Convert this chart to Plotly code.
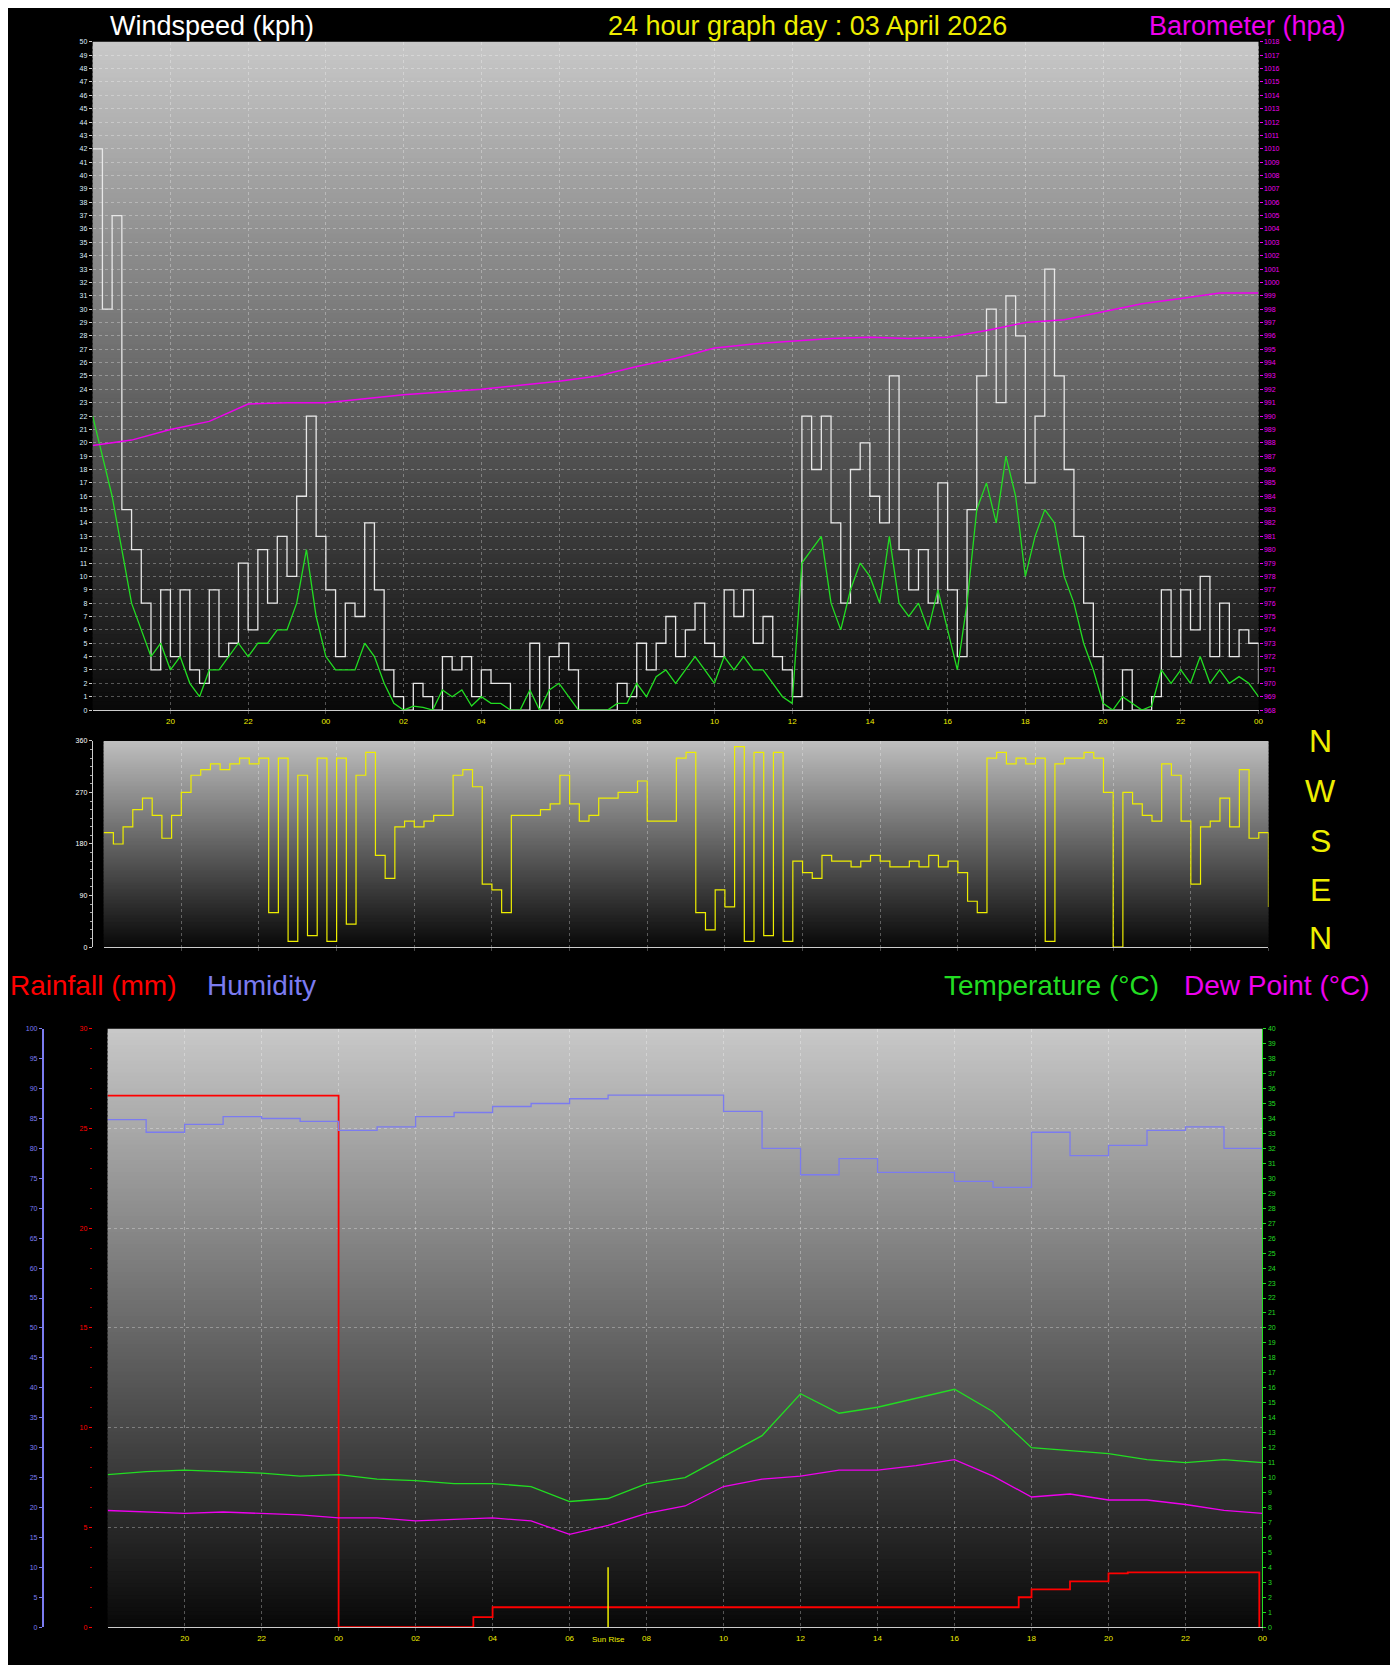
"""
24 hour weather graph: wind, direction, rain / humidity / temperature
"""
import pandas as pd
from plotly import graph_objects as go

START = "2026-04-02 18:00"

# wind gust (kph), every 15 minutes
wind_gust = [42, 30, 37, 15, 12, 8, 3, 9, 4, 9, 3, 2, 9, 4, 5, 11, 6, 12, 8, 13, 10, 16, 22, 13,
             9, 4, 8, 7, 14, 9, 3, 1, 0, 2, 1, 0, 4, 3, 4, 1, 3, 2, 2, 0, 0, 5, 0, 4,
             5, 3, 0, 0, 0, 0, 2, 1, 5, 3, 5, 7, 4, 6, 8, 5, 4, 9, 7, 9, 5, 7, 4, 3,
             1, 22, 18, 22, 14, 8, 18, 20, 16, 14, 25, 12, 9, 12, 8, 17, 9, 4, 15, 25,
             30, 23, 31, 28, 17, 22, 33, 25, 18, 13, 8, 4, 0, 0, 3, 0, 0, 1, 9, 4,
             9, 6, 10, 4, 8, 4, 6, 5, 2]
# average wind (kph), every 15 minutes
wind_avg = [22, 19, 16, 12, 8, 6, 4, 5, 3, 4, 2, 1, 3, 3, 4, 5, 4, 5, 5, 6, 6, 8, 12, 7,
            4, 3, 3, 3, 5, 4, 2, 0.5, 0, 0.3, 0.2, 0, 1.5, 1, 1.5, 0.3, 1, 0.5, 0.5, 0, 0, 1.5, 0, 1.5,
            2, 1, 0, 0, 0, 0, 0.5, 0.5, 2, 1, 2.5, 3, 2, 3, 4, 3, 2, 4, 3, 4, 3, 3, 2, 1,
            0.5, 11, 12, 13, 8, 6, 9, 11, 10, 8, 13, 8, 7, 8, 6, 9, 6, 3, 8, 15,
            17, 14, 19, 16, 10, 13, 15, 14, 10, 8, 5, 3, 0.5, 0, 1, 0.5, 0, 0.3, 3, 2,
            3, 2, 4, 2, 3, 2, 2.5, 2, 1]
# wind direction (degrees), every 15 minutes
wind_dir = [200, 180, 210, 240, 260, 230, 190, 230, 270, 300, 310, 320, 310, 320, 330, 320,
            330, 60, 330, 10, 300, 20, 330, 10, 330, 40, 300, 340, 160, 120, 210, 220,
            210, 220, 230, 230, 300, 310, 280, 110, 100, 60, 230, 230, 230, 240, 250, 300,
            250, 220, 230, 260, 260, 270, 270, 290, 220, 220, 220, 330, 340, 60, 30, 100,
            70, 350, 10, 340, 20, 340, 10, 150, 130, 120, 160, 150, 150, 140, 150, 160,
            150, 140, 140, 150, 140, 160, 140, 150, 130, 80, 60, 330, 340, 320, 330, 320,
            330, 10, 320, 330, 330, 340, 330, 270, 0, 270, 250, 230, 220, 320, 300, 220,
            110, 210, 220, 260, 210, 310, 190, 200, 70]
# barometer (hpa), hourly
baro = [987.8, 988.2, 989.0, 989.6, 990.9, 991.0, 991.0, 991.3, 991.6, 991.8, 992.0, 992.3,
        992.6, 993.0, 993.7, 994.3, 995.1, 995.4, 995.6, 995.8, 995.9, 995.8, 995.9, 996.4,
        997.0, 997.2, 997.8, 998.4, 998.8, 999.2, 999.2]
# hourly temperature, dew point, humidity
temperature = [10.2, 10.4, 10.5, 10.4, 10.3, 10.1, 10.2, 9.9, 9.8, 9.6, 9.6, 9.4, 8.4, 8.6, 9.6, 10.0,
               11.4, 12.8, 15.6, 14.3, 14.7, 15.3, 15.9, 14.4, 12.0, 11.8, 11.6, 11.2, 11.0, 11.2, 11.0]
dew_point = [7.8, 7.7, 7.6, 7.7, 7.6, 7.5, 7.3, 7.3, 7.1, 7.2, 7.3, 7.1, 6.2, 6.8, 7.6, 8.1,
             9.4, 9.9, 10.1, 10.5, 10.5, 10.8, 11.2, 10.1, 8.7, 8.9, 8.5, 8.5, 8.2, 7.8, 7.6]
humidity = [84.8, 82.7, 84, 85.3, 85, 84.5, 83, 83.6, 85.3, 86, 87, 87.5, 88.3, 88.9, 88.9, 88.9,
            86.2, 80, 75.6, 78.3, 76, 76, 74.5, 73.5, 82.7, 78.8, 80.5, 83, 83.6, 80, 79.5]
# rainfall (mm) steps
rain_times = ["2026-04-02 18:00", "2026-04-02 23:59", "2026-04-03 00:00", "2026-04-03 03:30",
              "2026-04-03 04:00", "2026-04-03 17:40", "2026-04-03 18:00", "2026-04-03 19:00",
              "2026-04-03 20:00", "2026-04-03 20:30", "2026-04-03 23:50", "2026-04-03 23:55"]
rain = [26.65, 26.65, 0, 0.5, 1.0, 1.5, 1.9, 2.3, 2.7, 2.75, 2.75, 0]
sunrise = "2026-04-03 07:00"

t15 = pd.date_range(START, periods=len(wind_gust), freq="15min")
t15d = pd.date_range(START, periods=len(wind_dir), freq="15min")
t60 = pd.date_range(START, periods=len(baro), freq="60min")

W, H = 1398, 1665
def px(x0, x1):
    return [x0 / W, x1 / W]
def py(y0, y1):
    return [1 - y1 / H, 1 - y0 / H]

FONT = "Liberation Sans"
XR = ["2026-04-02 18:00", "2026-04-04 00:00"]
TICKS = pd.date_range("2026-04-02 20:00", "2026-04-04 00:00", freq="2h")
grid = dict(showgrid=True, gridcolor="rgba(255,255,255,0.3)", griddash="dot", gridwidth=1)

fig = go.Figure()
def line(x, y, color, xa, ya, width=1.3, shape="linear"):
    fig.add_trace(go.Scatter(x=x, y=y, mode="lines", line=dict(color=color, width=width, shape=shape),
                             xaxis=xa, yaxis=ya))

line(t15, wind_gust, "#e8e8e8", "x", "y", shape="hv")
line(t15, wind_avg, "#22dd22", "x", "y")
line(t60, baro, "#ee00ee", "x", "y2", width=1.5)
line(t15d, wind_dir, "#eeee00", "x2", "y3", width=1.2, shape="hv")
line(rain_times, rain, "#ff0000", "x3", "y4", width=1.8, shape="hv")
line(t60, humidity, "#7b7bf0", "x3", "y5", shape="hv")
line(t60, temperature, "#22dd22", "x3", "y6")
line(t60, dew_point, "#ee00ee", "x3", "y6")

xax = dict(type="date", range=XR, tickvals=TICKS, tickformat="%H", ticks="outside",
           ticklen=3, showline=True, linecolor="#cccccc", zeroline=False, **grid)
xfont = dict(color="#eeee00", size=8, family=FONT)
fig.update_layout(
    width=W, height=H, margin=dict(l=0, r=0, t=0, b=0), showlegend=False,
    paper_bgcolor="black", plot_bgcolor="rgba(0,0,0,0)",
    xaxis=dict(domain=px(85, 1255), anchor="y", tickfont=xfont, **xax),
    yaxis=dict(domain=py(30, 701), range=[0, 50], dtick=1, ticks="outside", ticklen=3,
               tickcolor="#cccccc", tickfont=dict(color="#ddeeff", size=7, family=FONT),
               zeroline=False, **grid),
    yaxis2=dict(overlaying="y", side="right", anchor="x", range=[968, 1018], dtick=1,
                ticks="outside", ticklen=3, tickcolor="#ee00ee", showgrid=False, zeroline=False,
                tickfont=dict(color="#ee00ee", size=7, family=FONT)),
    xaxis2=dict(domain=px(96, 1265), anchor="y3", showticklabels=False, **xax),
    yaxis3=dict(domain=py(732, 939), range=[0, 360], tickvals=[0, 90, 180, 270, 360],
                ticks="outside", ticklen=3, tickcolor="#cccccc", showline=True, linecolor="#cccccc",
                tickfont=dict(color="white", size=7, family=FONT), zeroline=False,
                showgrid=False, minor=dict(dtick=15, ticks="outside", ticklen=2, tickcolor="#aaaaaa")),
    xaxis3=dict(domain=px(100, 1259), anchor="y4", tickfont=xfont, **xax),
    yaxis4=dict(domain=py(1021, 1622), range=[0, 30], dtick=5, ticks="outside", ticklen=3,
                tickcolor="#ff0000", tickfont=dict(color="#ff0000", size=7, family=FONT),
                zeroline=False, minor=dict(dtick=1, ticks="outside", ticklen=2, tickcolor="#aa0000"),
                **grid),
    yaxis5=dict(overlaying="y4", anchor="free", position=35 / W, range=[0, 100], dtick=5,
                ticks="outside", ticklen=3, tickcolor="#7b7bf0", showline=True, linecolor="#7b7bf0",
                linewidth=2, showgrid=False, zeroline=False,
                tickfont=dict(color="#7b7bf0", size=7, family=FONT)),
    yaxis6=dict(overlaying="y4", side="right", anchor="x3", range=[0, 40], dtick=1,
                ticks="outside", ticklen=3, tickcolor="#22dd22", showline=True, linecolor="#22dd22",
                showgrid=False, zeroline=False, tickfont=dict(color="#22dd22", size=7, family=FONT)),
)

# grey-to-black gradient backgrounds
shapes = []
for xr, yr, top in [("x domain", "y domain", 200), ("x2 domain", "y3 domain", 190), ("x3 domain", "y4 domain", 200)]:
    n = 150
    for i in range(n):
        g = int(top * (1 - i / n) + 8 * (i / n))
        shapes.append(dict(type="rect", xref=xr, yref=yr, x0=0, x1=1,
                           y0=max(0, 1 - (i + 1.6) / n), y1=1 - i / n,
                           fillcolor=f"rgb({g},{g},{g})", line_width=0, layer="below"))
shapes.append(dict(type="line", xref="x3", yref="y4", x0=sunrise, x1=sunrise, y0=0, y1=3,
                   line=dict(color="#eeee00", width=1.5)))
fig.update_layout(shapes=shapes)

def label(text, x, y, color, size=28, anchor="left"):
    fig.add_annotation(text=text, x=x / W, y=1 - y / H, xref="paper", yref="paper", showarrow=False,
                       xanchor=anchor, yanchor="middle", font=dict(color=color, size=size, family=FONT))

label("Windspeed (kph)", 100, 14, "white", size=27)
label("24 hour graph day : 03 April 2026", 802, 14, "#eeee00", size=27, anchor="center")
label("Barometer (hpa)", 1345, 14, "#ee00ee", size=27, anchor="right")
for txt, y in zip(["N", "W", "S", "E", "N"], [732, 782, 833, 882, 930]):
    label(txt, 1317, y, "#eeee00", size=32, anchor="center")
label("Rainfall (mm)", 0, 978, "#ff0000")
label("Humidity", 198, 978, "#7b7bf0")
label("Temperature (°C)", 937, 978, "#22dd22")
label("Dew Point (°C)", 1178, 978, "#ee00ee")
fig.add_annotation(text="Sun Rise", x=sunrise, y=0, xref="x3", yref="y4", yshift=-12,
                   showarrow=False, font=dict(color="#eeee00", size=8, family=FONT))

fig.write_html("out.html")
